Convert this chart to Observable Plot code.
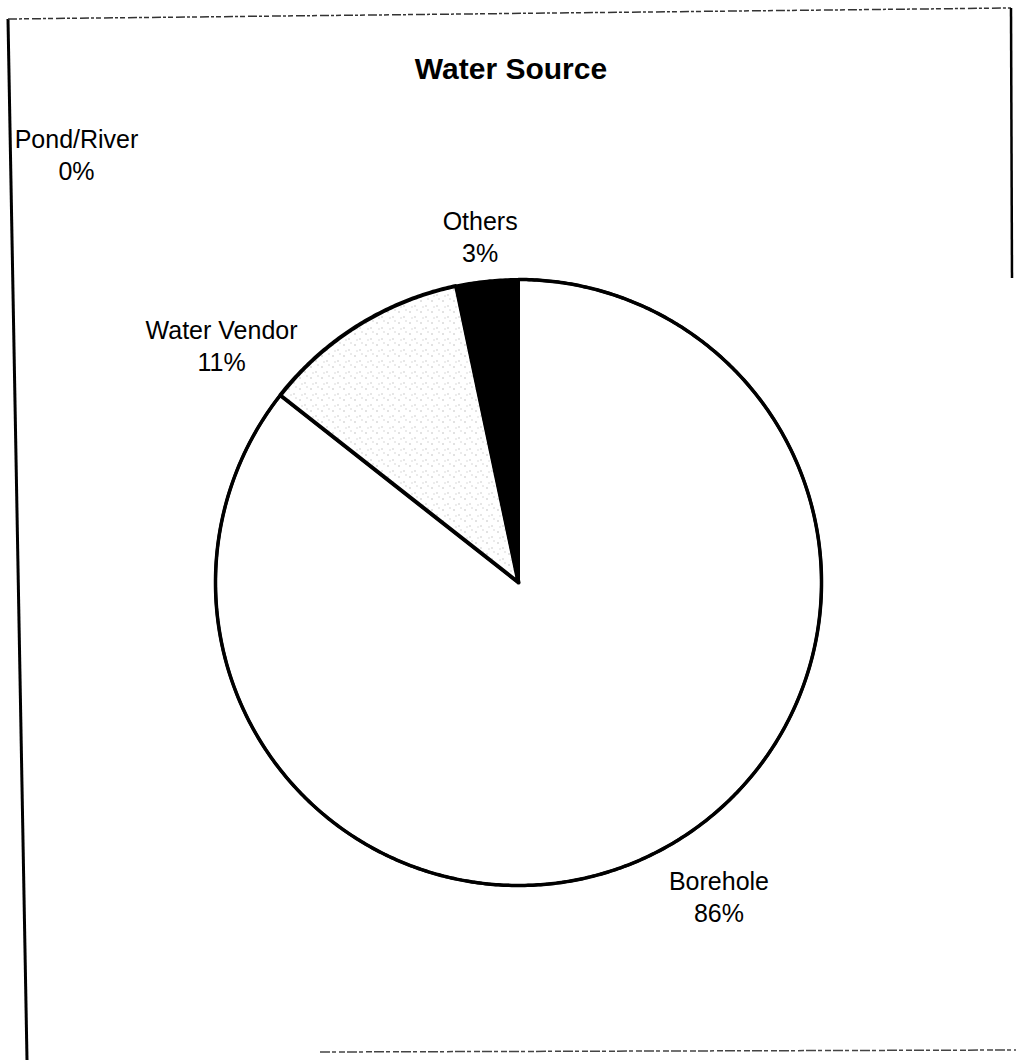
<!DOCTYPE html>
<html>
<head>
<meta charset="utf-8">
<script src="https://cdn.jsdelivr.net/npm/d3@7"></script>
<script src="https://cdn.jsdelivr.net/npm/@observablehq/plot@0.6"></script>
<style>
  body { margin: 0; background: #fff; }
  #wrap { position: relative; width: 1016px; height: 1060px; overflow: hidden; font-family: "Liberation Sans", Arial, sans-serif; }
  #title { position: absolute; left: 0; top: 54px; width: 1022px; text-align: center; font-weight: bold; font-size: 30px; line-height: 30px; color: #000; }
  #chart { position: absolute; left: 0; top: 0; }
  #frame { position: absolute; left: 0; top: 0; pointer-events: none; }
</style>
</head>
<body>
<div id="wrap">
  <svg width="0" height="0" style="position:absolute">
    <defs>
      <pattern id="stipple" patternUnits="userSpaceOnUse" width="11" height="11">
        <rect width="11" height="11" fill="#fff"/>
        <rect x="2" y="3" width="1" height="1" fill="#8a8a8a"/>
        <rect x="7" y="8" width="1" height="1" fill="#9a9a9a"/>
        <rect x="9" y="1" width="1" height="1" fill="#b0b0b0"/>
        <rect x="4" y="9" width="1" height="1" fill="#b5b5b5"/>
      </pattern>
    </defs>
  </svg>
  <div id="chart"></div>
  <div id="title">Water Source</div>
  <svg id="frame" width="1016" height="1060">
    <line x1="8" y1="19" x2="27" y2="1060" stroke="#000" stroke-width="3"/>
    <line x1="8" y1="19" x2="1011" y2="8" stroke="#333" stroke-width="1.5" stroke-dasharray="9 2 3 2 5 3"/>
    <line x1="1011" y1="8" x2="1012" y2="278" stroke="#000" stroke-width="2.5"/>
    <line x1="320" y1="1052" x2="1016" y2="1050" stroke="#444" stroke-width="1.5" stroke-dasharray="10 2 4 3 6 2"/>
  </svg>
</div>
<script>
// ---- data ----
const categories = ["Borehole", "Water Vendor", "Others", "Pond/River"];
const values = [85.6, 11.1, 3.3, 0];
const percentLabels = ["86%", "11%", "3%", "0%"];

// ---- styles / layout (not data) ----
const sliceFill = {"Borehole": "#fff", "Water Vendor": "url(#stipple)", "Others": "#000", "Pond/River": "#fff"};
const labelNudge = {"Borehole": [68, 41], "Water Vendor": [-137, 20], "Others": [-7, -45], "Pond/River": [-442, -126]};
const R = 303, cx = 518, cy = 582;

const rows = categories.map((name, i) => ({name, value: values[i], pct: percentLabels[i]}));
const arcs = d3.pie().sort(null).value(d => d.value)(rows);

const slicePts = [];
for (const a of arcs) {
  if (a.endAngle - a.startAngle <= 0) continue;
  const n = Math.max(2, Math.ceil((a.endAngle - a.startAngle) / (Math.PI / 360)));
  slicePts.push({name: a.data.name, x: 0, y: 0});
  for (let i = 0; i <= n; i++) {
    const t = a.startAngle + (a.endAngle - a.startAngle) * i / n;
    slicePts.push({name: a.data.name, x: Math.sin(t), y: Math.cos(t)});
  }
  slicePts.push({name: a.data.name, x: 0, y: 0});
}

const labelRows = arcs.map(a => {
  const mid = (a.startAngle + a.endAngle) / 2;
  const [ox, oy] = labelNudge[a.data.name];
  return {x: Math.sin(mid) + ox / R, y: Math.cos(mid) - oy / R, text: a.data.name + "\n" + a.data.pct};
});

const sliceMarks = arcs
  .filter(a => a.endAngle > a.startAngle)
  .map(a => Plot.line(slicePts.filter(p => p.name === a.data.name), {
    x: "x", y: "y",
    fill: sliceFill[a.data.name],
    stroke: "#000",
    strokeWidth: a.data.name === "Water Vendor" ? 4 : 3,
    strokeLinejoin: "miter"
  }));

const chart = Plot.plot({
  width: 1016,
  height: 1060,
  margin: 0,
  x: {domain: [-1, 1], range: [cx - R, cx + R], axis: null},
  y: {domain: [-1, 1], range: [cy + R, cy - R], axis: null},
  style: {background: "transparent", fontFamily: "Liberation Sans, Arial, sans-serif"},
  marks: [
    ...sliceMarks,
    Plot.line(slicePts.filter(p => p.name === "Borehole" && !(p.x === 0 && p.y === 0)), {x: "x", y: "y", stroke: "#000", strokeWidth: 3.5}),
    Plot.text(labelRows, {
      x: "x", y: "y", text: "text",
      fontSize: 25, lineHeight: 1.28, textAnchor: "middle", fill: "#000",
      fontFamily: "Liberation Sans, Arial, sans-serif"
    })
  ]
});
document.getElementById("chart").appendChild(chart);
</script>
</body>
</html>
